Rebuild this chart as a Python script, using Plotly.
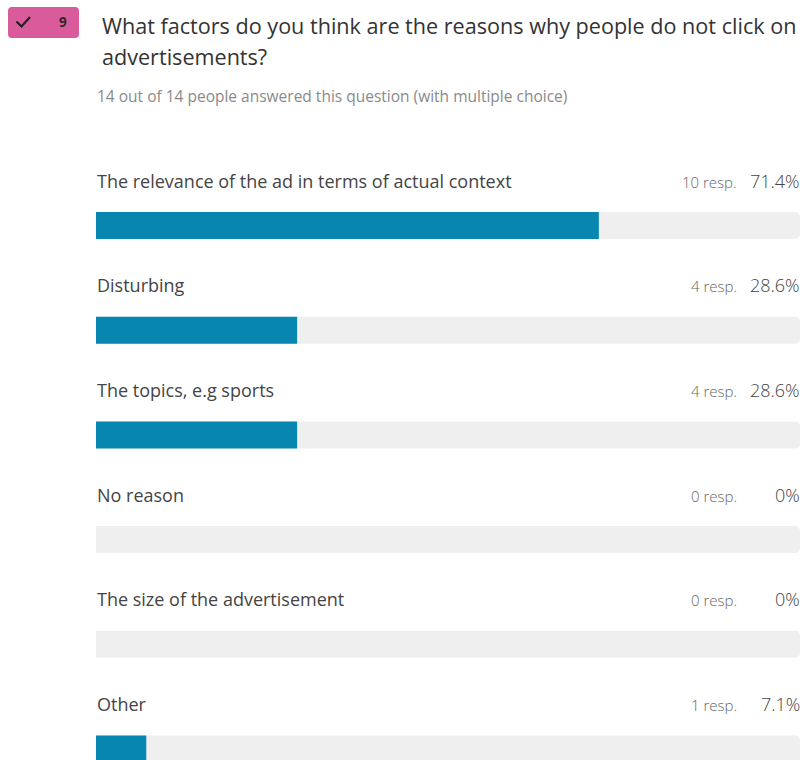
import plotly.graph_objects as go

# Survey results: multiple-choice question, 14 respondents
question_lines = [
    "What factors do you think are the reasons why people do not click on",
    "advertisements?",
]
subtitle = "14 out of 14 people answered this question (with multiple choice)"
question_no = "9"
total_respondents = 14
options = [
    "The relevance of the ad in terms of actual context",
    "Disturbing",
    "The topics, e.g sports",
    "No reason",
    "The size of the advertisement",
    "Other",
]
responses = [10, 4, 4, 0, 0, 1]
percent_labels = ["71.4%", "28.6%", "28.6%", "0%", "0%", "7.1%"]

percents = [r / total_respondents * 100 for r in responses]
rows = list(range(len(options)))

W, H = 802, 760
FONT = "Open Sans, Noto Sans, sans-serif"
BLUE = "#0787B0"
TRACK = "#EFEFEF"
TEXT = "#444444"

fig = go.Figure()

# grey track behind every option
fig.add_trace(go.Bar(
    x=[100] * len(options), y=rows, orientation="h",
    marker=dict(color=TRACK, cornerradius=5, line=dict(width=0)),
    width=0.258, hoverinfo="skip", showlegend=False,
))
# share of respondents choosing the option
fig.add_trace(go.Bar(
    x=percents, y=rows, orientation="h",
    marker=dict(color=BLUE, cornerradius=4, line=dict(width=0)),
    width=0.258, showlegend=False,
    hovertemplate="%{x:.1f}%<extra></extra>",
))

annotations = []
for i, (opt, r, p) in enumerate(zip(options, responses, percent_labels)):
    annotations.append(dict(
        x=95 / W, y=i, xref="paper", yref="y", yshift=45,
        text=opt, showarrow=False, xanchor="left", yanchor="middle",
        font=dict(family=FONT, size=18, color=TEXT),
    ))
    annotations.append(dict(
        x=739 / W, y=i, xref="paper", yref="y", yshift=44,
        text=f"{r} resp.", showarrow=False, xanchor="right", yanchor="middle",
        font=dict(family=FONT, size=15, color="#666666", weight=300),
    ))
    annotations.append(dict(
        x=802 / W, y=i, xref="paper", yref="y", yshift=45,
        text=p, showarrow=False, xanchor="right", yanchor="middle",
        font=dict(family=FONT, size=18, color=TEXT, weight=300),
    ))

# header: question title (two lines), answer count, numbered badge
for line, ypx in zip(question_lines, [25, 57]):
    annotations.append(dict(
        x=100 / W, y=1 - ypx / H, xref="paper", yref="paper",
        text=line, showarrow=False, xanchor="left", yanchor="middle",
        font=dict(family=FONT, size=21.6, color="#333333"),
    ))
annotations.append(dict(
    x=95 / W, y=1 - 96 / H, xref="paper", yref="paper",
    text=subtitle, showarrow=False, xanchor="left", yanchor="middle",
    font=dict(family=FONT, size=15.5, color="#8a8a8a"),
))
annotations.append(dict(
    x=63 / W, y=1 - 22 / H, xref="paper", yref="paper",
    text="<b>" + question_no + "</b>", showarrow=False, xanchor="center", yanchor="middle",
    font=dict(family=FONT, size=13.5, color="#2a2a2a"),
))


def px_path(path):
    """Convert a path written in pixel units into paper coordinates."""
    out = []
    toks = path.split()
    k = 0
    while k < len(toks):
        t = toks[k]
        if t in ("M", "L", "Q", "Z"):
            out.append(t)
            k += 1
            continue
        xv = float(toks[k]) / W
        yv = 1 - float(toks[k + 1]) / H
        out.append(f"{xv:.5f},{yv:.5f}")
        k += 2
    return " ".join(out)


x0, x1, y0, y1, rr = 8, 79, 7, 38, 4
badge_path = (
    f"M {x0 + rr} {y0} L {x1 - rr} {y0} Q {x1} {y0} {x1} {y0 + rr} "
    f"L {x1} {y1 - rr} Q {x1} {y1} {x1 - rr} {y1} L {x0 + rr} {y1} "
    f"Q {x0} {y1} {x0} {y1 - rr} L {x0} {y0 + rr} Q {x0} {y0} {x0 + rr} {y0} Z"
)
check_path = "M 16.5 21.5 L 21.5 26.5 L 30 17"

shapes = [
    dict(type="path", xref="paper", yref="paper", path=px_path(badge_path),
         fillcolor="#D95B9B", line=dict(width=0), layer="below"),
    dict(type="path", xref="paper", yref="paper", path=px_path(check_path),
         line=dict(color="#222222", width=2.2), layer="above"),
]

pitch, first_center = 104.7, 225.5
fig.update_layout(
    width=W, height=H,
    margin=dict(l=0, r=0, t=0, b=0),
    paper_bgcolor="white", plot_bgcolor="white",
    barmode="overlay",
    xaxis=dict(domain=[96 / W, 800 / W], range=[0, 100], visible=False, fixedrange=True),
    yaxis=dict(
        domain=[0, 1],
        range=[(H - first_center) / pitch, -first_center / pitch],
        visible=False, fixedrange=True,
    ),
    annotations=annotations,
    shapes=shapes,
)

fig.write_html("out.html")
